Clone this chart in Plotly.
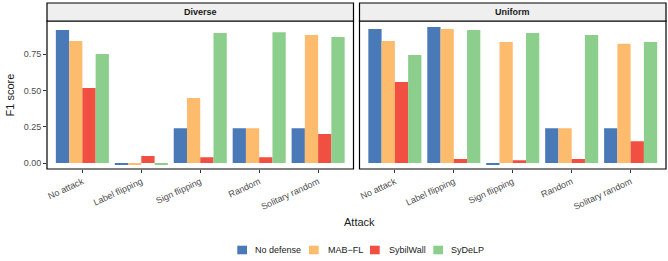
import plotly.graph_objects as go
from plotly.subplots import make_subplots

attacks = ["No attack", "Label flipping", "Sign flipping", "Random", "Solitary random"]
methods = ["No defense", "MAB\u2212FL", "SybilWall", "SyDeLP"]
colors = ["#4A79B7", "#FDBB6E", "#F04F41", "#8CCE8B"]

diverse = {
    "No defense": [0.915, -0.008, 0.24, 0.24, 0.24],
    "MAB\u2212FL": [0.84, -0.008, 0.447, 0.24, 0.88],
    "SybilWall": [0.516, 0.048, 0.04, 0.04, 0.20],
    "SyDeLP": [0.75, -0.008, 0.895, 0.90, 0.867],
}
uniform = {
    "No defense": [0.922, 0.936, -0.008, 0.24, 0.24],
    "MAB\u2212FL": [0.84, 0.922, 0.833, 0.24, 0.82],
    "SybilWall": [0.557, 0.027, 0.02, 0.027, 0.15],
    "SyDeLP": [0.743, 0.915, 0.895, 0.88, 0.833],
}
panels = ["Diverse", "Uniform"]

W, H = 668, 261
ML, MR, MT, MB = 47, 2, 21, 92
PW, PH = W - ML - MR, H - MT - MB


def px_x(p):
    return (p - ML) / PW


def px_y(p):
    return (H - MB - p) / PH


fig = make_subplots(rows=1, cols=2, shared_yaxes=True, horizontal_spacing=0.0097)
for col, data in enumerate([diverse, uniform], start=1):
    for m, c in zip(methods, colors):
        fig.add_trace(go.Bar(x=attacks, y=data[m], name=m, marker=dict(color=c, line=dict(width=0)),
                             showlegend=False), row=1, col=col)

font = "Liberation Sans, Arial, sans-serif"
fig.update_layout(
    width=W, height=H, barmode="group", bargap=0.1, bargroupgap=0,
    margin=dict(l=ML, r=MR, t=MT, b=MB, autoexpand=False),
    plot_bgcolor="white", paper_bgcolor="white",
    font=dict(family=font, size=9, color="#4D4D4D"),
    showlegend=False,
)
for i in [1, 2]:
    fig.update_xaxes(row=1, col=i, range=[-0.6, 4.6], tickangle=-25, ticks="outside", ticklen=3,
                     tickcolor="#333333", showline=False, showgrid=False, zeroline=False, automargin=False,
                     tickfont=dict(size=9, color="#4D4D4D"))
    fig.update_yaxes(row=1, col=i, range=[-0.041, 0.977], showgrid=False, zeroline=False, showline=False,
                     automargin=False)
fig.update_yaxes(row=1, col=1, tickvals=[0, 0.25, 0.5, 0.75], tickformat=".2f", ticks="outside",
                 ticklen=3, tickcolor="#333333", tickfont=dict(size=9, color="#4D4D4D"),
                 title=dict(text="F1 score", font=dict(size=11, color="#1A1A1A"), standoff=6))
fig.update_yaxes(row=1, col=2, showticklabels=False, ticks="")

strip_h = 18 / PH
for xr, lab in [("x domain", panels[0]), ("x2 domain", panels[1])]:
    fig.add_shape(type="rect", xref=xr, yref="paper", x0=0, x1=1, y0=0, y1=1,
                  line=dict(color="black", width=1.2), fillcolor="rgba(0,0,0,0)", layer="above")
    fig.add_shape(type="rect", xref=xr, yref="paper", x0=0, x1=1, y0=1, y1=1 + strip_h,
                  line=dict(color="black", width=1.2), fillcolor="#EFEFEF")
    fig.add_annotation(xref=xr, yref="paper", x=0.5, y=1 + strip_h / 2, yanchor="middle",
                       text="<b>%s</b>" % lab, showarrow=False, font=dict(size=9, color="#1A1A1A"))

fig.add_annotation(xref="paper", yref="paper", x=px_x(359), y=px_y(221.5), xanchor="center",
                   yanchor="middle", text="Attack", showarrow=False, font=dict(size=11, color="#1A1A1A"))

# manual legend (ggplot-style compact keys)
key_x = [237.3, 309.0, 370.0, 433.3]
text_x = [253.3, 325.7, 386.7, 449.3]
for m, c, kx, tx in zip(methods, colors, key_x, text_x):
    fig.add_shape(type="rect", xref="paper", yref="paper", x0=px_x(kx), x1=px_x(kx + 9.7),
                  y0=px_y(254.3), y1=px_y(245.7), line=dict(width=0), fillcolor=c)
    fig.add_annotation(xref="paper", yref="paper", x=px_x(tx), y=px_y(250), xanchor="left",
                       yanchor="middle", text=m, showarrow=False, font=dict(size=9, color="#1A1A1A"))

fig.write_html("out.html", config={"displayModeBar": False},
               post_script="document.body.style.margin='0';document.body.style.overflow='hidden';")
